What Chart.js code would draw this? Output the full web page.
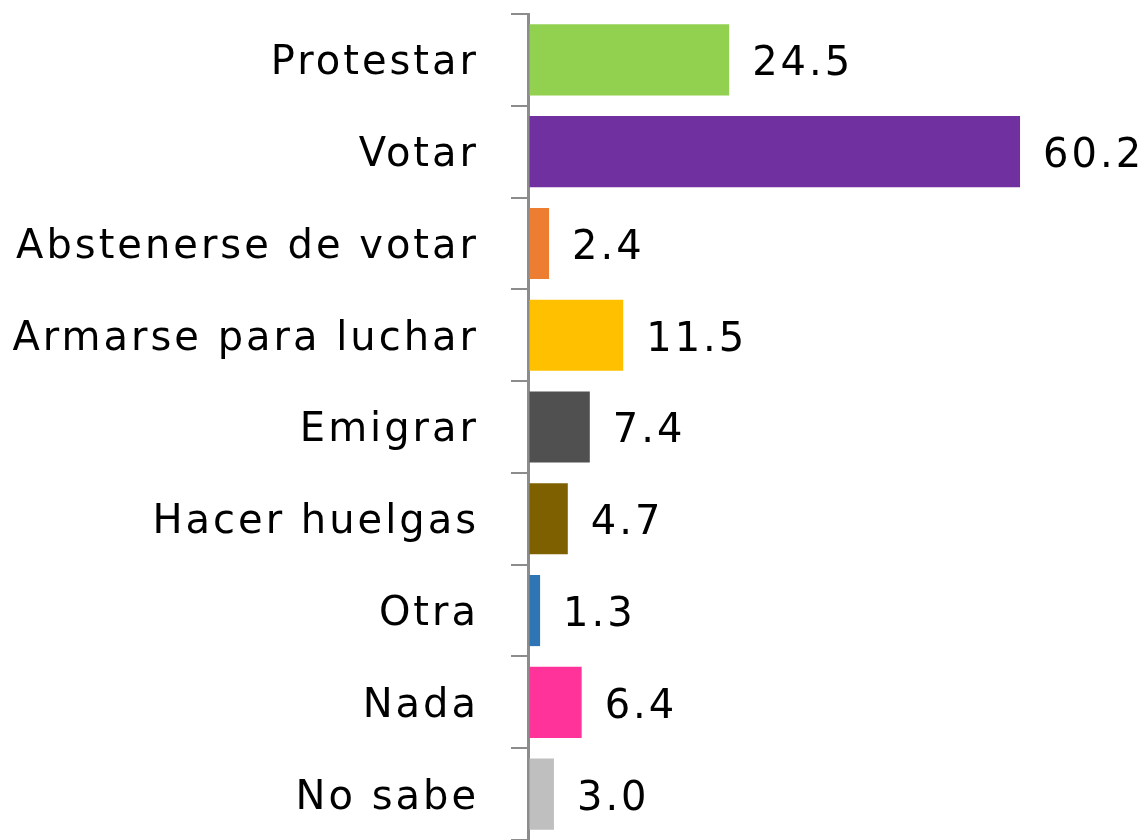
<!DOCTYPE html>
<html>
<head>
<meta charset="utf-8">
<script src="https://cdn.jsdelivr.net/npm/chart.js@4"></script>
<style>
html,body{margin:0;padding:0;background:#fff;}
#wrap{width:1147px;height:840px;position:relative;}
</style>
</head>
<body>
<div id="wrap"><canvas id="c"></canvas></div>
<script>
const categories = ["Protestar","Votar","Abstenerse de votar","Armarse para luchar","Emigrar","Hacer huelgas","Otra","Nada","No sabe"];
const values = [24.5, 60.2, 2.4, 11.5, 7.4, 4.7, 1.3, 6.4, 3.0];
const valueLabels = ["24.5","60.2","2.4","11.5","7.4","4.7","1.3","6.4","3.0"];
const barColors = ["#92D050","#7030A0","#ED7D31","#FFC000","#505050","#7F6000","#2E75B6","#FF3399","#BFBFBF"];

const FONT = "'DejaVu Sans'";
const spacingPlugin = {
  id: 'spacing',
  beforeDraw(chart){ chart.ctx.letterSpacing = '3px'; }
};
const valueLabelPlugin = {
  id: 'valueLabels',
  afterDatasetsDraw(chart){
    const ctx = chart.ctx;
    const meta = chart.getDatasetMeta(0);
    ctx.save();
    ctx.letterSpacing = '3px';
    ctx.font = "40px " + FONT;
    ctx.fillStyle = '#000';
    ctx.textAlign = 'left';
    ctx.textBaseline = 'middle';
    meta.data.forEach((bar, i) => {
      ctx.fillText(valueLabels[i], bar.x + 23, bar.y + 5);
    });
    ctx.restore();
  }
};

new Chart(document.getElementById('c'), {
  type: 'bar',
  data: {
    labels: categories,
    datasets: [{
      data: values,
      backgroundColor: barColors,
      borderWidth: 0,
      barPercentage: 0.775,
      categoryPercentage: 1
    }]
  },
  options: {
    indexAxis: 'y',
    responsive: true,
    maintainAspectRatio: false,
    animation: false,
    layout: { padding: { top: 14, bottom: 0, left: 0, right: 0 } },
    plugins: { legend: { display: false }, tooltip: { enabled: false } },
    scales: {
      x: { display: false, min: -0.184, max: 75.78 },
      y: {
        afterFit(scale){ scale.width = 528; scale.paddingTop = 0; scale.paddingBottom = 0; },
        grid: { drawOnChartArea: false, offset: true, tickLength: 17, color: '#8c8c8c', lineWidth: 2 },
        border: { color: '#8c8c8c', width: 3 },
        ticks: { color: '#000', padding: 32, labelOffset: 4, font: { family: FONT, size: 40 } }
      }
    }
  },
  plugins: [spacingPlugin, valueLabelPlugin]
});
</script>
</body>
</html>
